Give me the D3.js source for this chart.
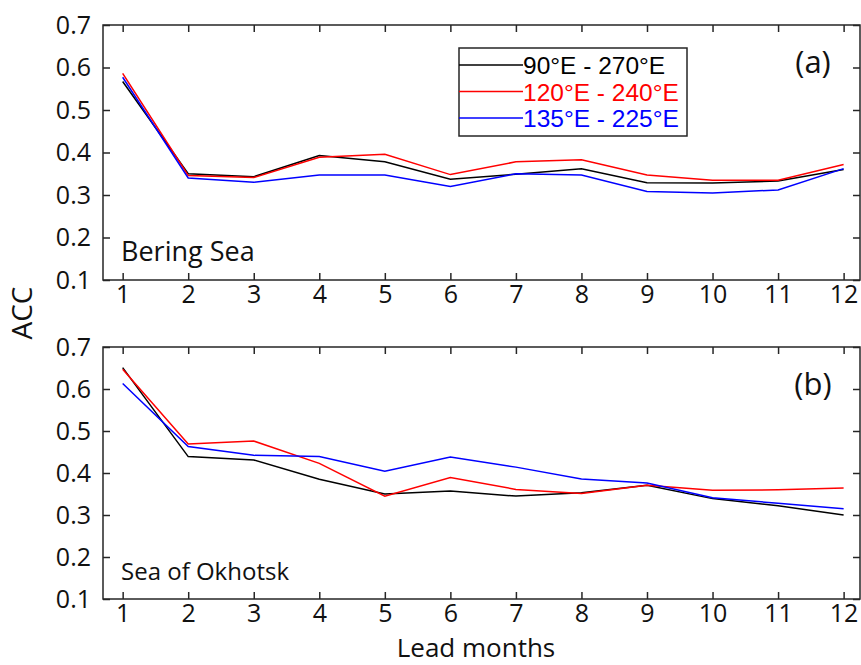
<!DOCTYPE html>
<html>
<head>
<meta charset="utf-8">
<script src="https://cdn.jsdelivr.net/npm/d3@7"></script>
<style>
  body { margin: 0; background: #fff; }
  svg { display: block; }
</style>
</head>
<body>
<div class="accChart"></div>
<script>
// lead months on the x axis
const leadMonths = [1, 2, 3, 4, 5, 6, 7, 8, 9, 10, 11, 12];
const yTicks = [0.1, 0.2, 0.3, 0.4, 0.5, 0.6, 0.7];

const seriesNames = ["90°E - 270°E", "120°E - 240°E", "135°E - 225°E"];
const seriesColors = ["#000000", "#ff0000", "#0000ff"];

// (a) Bering Sea
const beringBlack = [0.567, 0.350, 0.343, 0.393, 0.378, 0.337, 0.349, 0.362, 0.329, 0.328, 0.333, 0.360];
const beringRed   = [0.586, 0.346, 0.341, 0.389, 0.396, 0.348, 0.378, 0.383, 0.347, 0.335, 0.335, 0.372];
const beringBlue  = [0.577, 0.340, 0.330, 0.347, 0.347, 0.320, 0.350, 0.347, 0.308, 0.305, 0.312, 0.362];

// (b) Sea of Okhotsk
const okhotskBlack = [0.651, 0.439, 0.431, 0.385, 0.350, 0.357, 0.345, 0.353, 0.371, 0.339, 0.322, 0.300];
const okhotskRed   = [0.647, 0.469, 0.476, 0.423, 0.345, 0.389, 0.361, 0.351, 0.371, 0.359, 0.360, 0.364];
const okhotskBlue  = [0.613, 0.463, 0.442, 0.439, 0.404, 0.438, 0.414, 0.386, 0.376, 0.341, 0.328, 0.315];

const W = 861, H = 665;
const svg = d3.select(".accChart").append("svg")
    .attr("width", W)
    .attr("height", H);

const x = d3.scaleLinear().domain([0.7, 12.25]).range([103, 860]);

const frameColor = "#262626";
const tickFont = "Open Sans";

function panel(top, bottom, series, letter, sea, seaSize, withLegend) {
    const y = d3.scaleLinear().domain([0.1, 0.7]).range([bottom, top]);
    const g = svg.append("g");

    // bottom axis with labels, ticks pointing inward
    g.append("g")
        .attr("transform", `translate(0,${bottom})`)
        .call(d3.axisBottom(x).tickValues(leadMonths).tickSize(-7).tickPadding(5).tickFormat(d3.format("d")));
    // top ticks
    g.append("g")
        .attr("transform", `translate(0,${top})`)
        .call(d3.axisTop(x).tickValues(leadMonths).tickSize(-7).tickFormat(""));
    // left axis with labels
    g.append("g")
        .attr("transform", `translate(${x.range()[0]},0)`)
        .call(d3.axisLeft(y).tickValues(yTicks).tickSize(-7).tickPadding(12).tickFormat(d3.format(".1f")));
    // right ticks
    g.append("g")
        .attr("transform", `translate(${x.range()[1]},0)`)
        .call(d3.axisRight(y).tickValues(yTicks).tickSize(-7).tickFormat(""));

    g.selectAll(".domain").remove();
    g.selectAll(".tick line").attr("stroke", frameColor).attr("stroke-width", 1.5);
    g.selectAll(".tick text")
        .attr("fill", "#111")
        .style("font-family", tickFont)
        .style("font-size", "25px");

    g.append("rect")
        .attr("x", x.range()[0])
        .attr("y", top)
        .attr("width", x.range()[1] - x.range()[0])
        .attr("height", bottom - top)
        .attr("fill", "none")
        .attr("stroke", frameColor)
        .attr("stroke-width", 1.5);

    const line = d3.line()
        .x((d, i) => x(leadMonths[i]))
        .y(d => y(d));

    series.forEach((vals, k) => {
        g.append("path")
            .datum(vals)
            .attr("fill", "none")
            .attr("stroke", seriesColors[k])
            .attr("stroke-width", 1.5)
            .attr("d", line);
    });

    g.append("text")
        .attr("x", 813)
        .attr("y", top + 48)
        .attr("text-anchor", "middle")
        .style("font-family", tickFont)
        .style("font-size", "31px")
        .attr("fill", "#111")
        .text(letter);

    g.append("text")
        .attr("x", 121)
        .attr("y", bottom - 19)
        .style("font-family", tickFont)
        .style("font-size", seaSize + "px")
        .attr("fill", "#111")
        .text(sea);

    if (withLegend) {
        const lg = g.append("g");
        lg.append("rect")
            .attr("x", 459).attr("y", top + 23)
            .attr("width", 228).attr("height", 88)
            .attr("fill", "#fff")
            .attr("stroke", frameColor)
            .attr("stroke-width", 1.5);
        seriesNames.forEach((name, k) => {
            const ly = top + 40 + k * 26.5;
            lg.append("line")
                .attr("x1", 459).attr("x2", 523)
                .attr("y1", ly).attr("y2", ly)
                .attr("stroke", seriesColors[k])
                .attr("stroke-width", 1.5);
            lg.append("text")
                .attr("x", 523)
                .attr("y", ly + 9)
                .style("font-family", "Liberation Sans")
                .style("font-size", "24.5px")
                .attr("fill", seriesColors[k])
                .text(name);
        });
    }
}

panel(25, 280, [beringBlack, beringRed, beringBlue], "(a)", "Bering Sea", 27, true);
panel(347, 599, [okhotskBlack, okhotskRed, okhotskBlue], "(b)", "Sea of Okhotsk", 24, false);

svg.append("text")
    .attr("transform", "translate(32,313) rotate(-90)")
    .attr("text-anchor", "middle")
    .style("font-family", tickFont)
    .style("font-size", "28px")
    .attr("fill", "#111")
    .text("ACC");

svg.append("text")
    .attr("x", 476)
    .attr("y", 657)
    .attr("text-anchor", "middle")
    .style("font-family", tickFont)
    .style("font-size", "26px")
    .attr("fill", "#111")
    .text("Lead months");
</script>
</body>
</html>
